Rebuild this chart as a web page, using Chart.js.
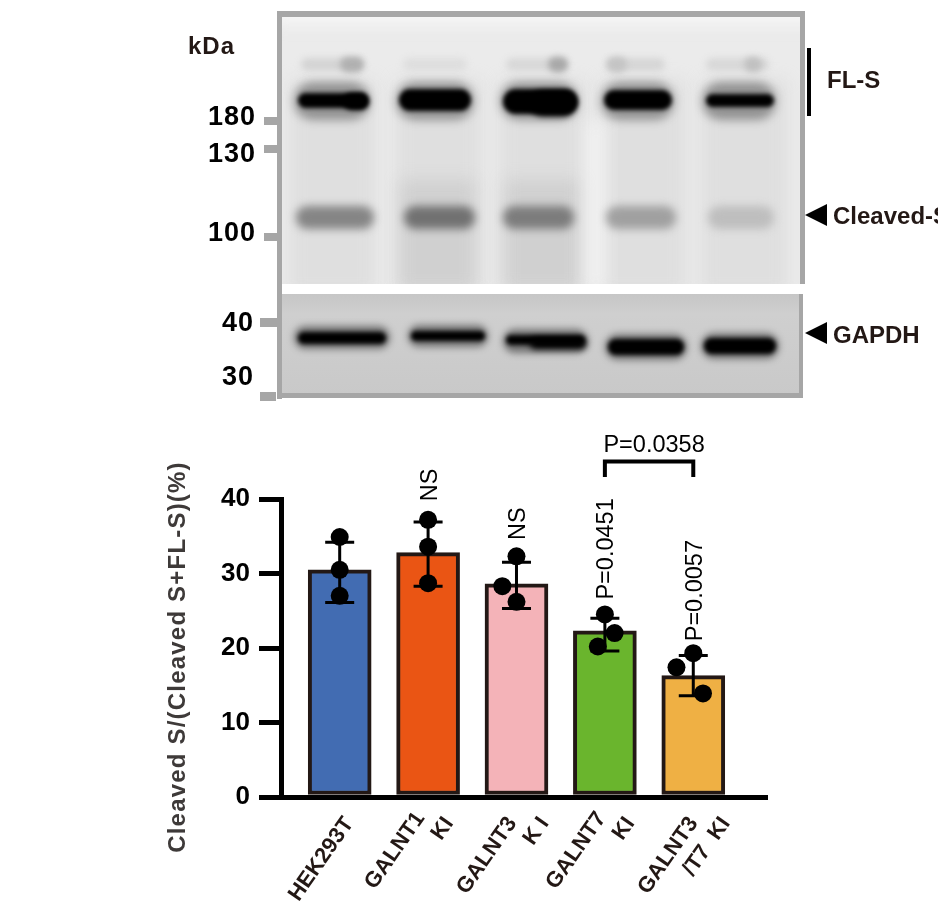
<!DOCTYPE html>
<html>
<head>
<meta charset="utf-8">
<style>
html,body{margin:0;padding:0;background:#fff;overflow:hidden}
#wrap{width:938px;height:922px;position:relative}
</style>
<script src="https://cdn.jsdelivr.net/npm/chart.js@4"></script>
</head>
<body>
<div id="wrap"><canvas id="chart" width="938" height="922"></canvas></div>
<script>
const categories = [["", "HEK293T"], ["GALNT1  ", "KI"], ["GALNT3   ", "K I"], ["GALNT7  ", "KI"], ["GALNT3   ", "/T7  KI"]];
const categoryTicks = [-0.07, 1.06, 2.14, 3.11, 4.19];
const barValues = [30.5, 32.8, 28.6, 22.3, 16.3];
const barColors = ["#426cb2", "#ea5514", "#f4b3b8", "#6ab52d", "#efb044"];
const errLow = [26.1, 28.3, 25.3, 19.6, 13.6];
const errHigh = [34.2, 36.9, 31.5, 24.0, 19.0];
const pointX = [0, 0, 0, 1, 1, 1, 1.84, 2, 2, 2.92, 3, 3.11, 3.81, 4, 4.11];
const pointY = [34.9, 30.5, 27.0, 37.2, 33.6, 28.7, 28.3, 32.3, 26.2, 20.2, 24.5, 22.0, 17.4, 19.3, 13.9];
const yTicks = [0, 10, 20, 30, 40];
const sigLabels = ["", "NS", "NS", "P=0.0451", "P=0.0057"];
const sigValues = [0, 39.7, 34.5, 26.5, 20.9];
const markerLabels = ["180", "130", "100", "40", "30"];

function band(ctx, x, y, w, h, shade, blur) {
  ctx.filter = "blur(" + blur + "px)";
  ctx.fillStyle = shade;
  ctx.beginPath();
  ctx.roundRect(x, y, w, h, h / 2);
  ctx.fill();
  ctx.filter = "none";
}

function smear(ctx, x, y, w, h, shade) {
  ctx.filter = "blur(8px)";
  ctx.fillStyle = shade;
  ctx.fillRect(x, y, w, h);
  ctx.filter = "none";
}

// the western blot above the bars
function drawBlot(ctx) {
  ctx.save();
  ctx.beginPath();
  ctx.rect(280, 14, 521, 270);
  ctx.clip();
  ctx.fillStyle = "#ebebeb";
  ctx.fillRect(280, 14, 521, 270);
  smear(ctx, 270, 0, 550, 24, "#f6f6f6");
  [[290, 85], [396, 85], [500, 85], [600, 85], [702, 85]].forEach(l => {
    smear(ctx, l[0], 80, l[1], 215, "rgba(205,205,205,0.4)");
  });
  [[400, 75], [505, 75]].forEach(l => smear(ctx, l[0], 180, l[1], 110, "rgba(190,190,190,0.45)"));
  smear(ctx, 585, 120, 22, 170, "rgba(245,245,245,0.7)");

  // faint upper bands
  [[301, 62, "#d4d4d4"], [403, 64, "#dedede"], [506, 61, "#d8d8d8"], [606, 59, "#d6d6d6"], [706, 63, "#d8d8d8"]].forEach(b => {
    band(ctx, b[0], 58, b[1], 13, b[2], 3);
  });
  [[340, 24, "#b0b0b0"], [548, 20, "#a8a8a8"], [744, 18, "#c0c0c0"], [607, 20, "#c4c4c4"]].forEach(b => {
    band(ctx, b[0], 57, b[1], 15, b[2], 3);
  });

  // full length bands, halo then core
  [[294, 76], [396, 78], [500, 78], [601, 73], [702, 74]].forEach(b => {
    band(ctx, b[0], 82, b[1], 38, "rgba(95,95,95,0.6)", 5);
  });
  [[298, 70, 93, 15], [399, 72, 89, 22], [503, 75, 89, 25], [604, 68, 90, 20], [706, 68, 94, 13]].forEach(b => {
    band(ctx, b[0], b[2], b[1], b[3], "#000", 2.2);
  });
  band(ctx, 343, 93, 26, 17, "#000", 2.5);
  band(ctx, 530, 91, 46, 25, "#000", 3);

  // cleaved bands
  [[296, 78, "#858585"], [404, 71, "#717171"], [503, 71, "#7c7c7c"], [606, 70, "#a0a0a0"], [708, 66, "#bebebe"]].forEach(b => {
    band(ctx, b[0], 206, b[1], 23, b[2], 4.5);
  });
  ctx.restore();

  // white gap
  ctx.fillStyle = "#fff";
  ctx.fillRect(282, 284, 518, 10);

  // GAPDH strip
  ctx.save();
  ctx.beginPath();
  ctx.rect(282, 294, 517, 100);
  ctx.clip();
  const g = ctx.createLinearGradient(0, 294, 0, 394);
  g.addColorStop(0, "#c6c6c6");
  g.addColorStop(0.2, "#cfcfcf");
  g.addColorStop(1, "#c9c9c9");
  ctx.fillStyle = g;
  ctx.fillRect(282, 294, 517, 100);
  [[294, 96, 326, 23], [408, 80, 325, 22], [503, 85, 329, 24], [605, 82, 334, 26], [701, 78, 333, 26]].forEach(b => {
    band(ctx, b[0], b[2], b[1], b[3], "rgba(55,55,55,0.6)", 3.5);
  });
  [[298, 88, 332, 12], [411, 74, 331, 10], [506, 79, 335, 10], [608, 76, 339, 16], [704, 72, 338, 16]].forEach(b => {
    band(ctx, b[0], b[2], b[1], b[3], "#000", 2);
  });
  band(ctx, 530, 338, 56, 11, "#000", 3);
  ctx.restore();

  // frame and ladder ticks
  ctx.fillStyle = "#a6a6a6";
  ctx.fillRect(277, 11, 528, 6);
  ctx.fillRect(277, 11, 5, 388);
  ctx.fillRect(277, 393, 524, 5);
  ctx.fillRect(800, 11, 5, 273);
  ctx.fillRect(799, 294, 4, 104);
  ctx.fillRect(264, 117, 13, 8);
  ctx.fillRect(264, 145, 13, 8);
  ctx.fillRect(264, 233, 13, 8);
  ctx.fillRect(260, 318, 17, 9);
  ctx.fillRect(260, 392, 16, 9);
}

function drawBlotText(ctx) {
  ctx.textBaseline = "middle";
  ctx.fillStyle = "#231815";
  ctx.font = "bold 24px 'Liberation Sans'";
  ctx.textAlign = "left";
  ctx.letterSpacing = "1px";
  ctx.fillText("kDa", 188, 47);
  ctx.fillStyle = "#000";
  ctx.font = "bold 27px 'Liberation Sans'";
  ctx.textAlign = "right";
  const markerY = [118, 155, 234, 324, 378];
  markerLabels.forEach((t, i) => ctx.fillText(t, i > 2 ? 254 : 256, markerY[i]));
  ctx.letterSpacing = "0px";
  ctx.textAlign = "left";
  ctx.font = "bold 24px 'Liberation Sans'";
  ctx.fillStyle = "#231815";
  ctx.fillText("FL-S", 827, 81);
  ctx.fillText("Cleaved-S", 833, 217);
  ctx.fillText("GAPDH", 833, 336);
  ctx.fillStyle = "#000";
  ctx.fillRect(807, 48, 4, 68);
  [215, 333].forEach(y => {
    ctx.beginPath();
    ctx.moveTo(805, y);
    ctx.lineTo(827, y - 11);
    ctx.lineTo(827, y + 11);
    ctx.closePath();
    ctx.fill();
  });
}

const figurePlugin = {
  id: "figure",
  beforeDraw(chart) {
    const ctx = chart.ctx;
    ctx.save();
    ctx.fillStyle = "#fff";
    ctx.fillRect(0, 0, 938, 922);
    drawBlot(ctx);
    drawBlotText(ctx);
    ctx.restore();
  },
  afterDatasetsDraw(chart) {
    const ctx = chart.ctx;
    const xs = chart.scales.x, ys = chart.scales.y;
    ctx.save();
    ctx.strokeStyle = "#000";
    ctx.lineWidth = 3;
    barValues.forEach((v, i) => {
      const x = xs.getPixelForValue(i);
      const lo = ys.getPixelForValue(errLow[i]);
      const hi = ys.getPixelForValue(errHigh[i]);
      ctx.beginPath();
      ctx.moveTo(x, lo);
      ctx.lineTo(x, hi);
      ctx.moveTo(x - 14.5, lo);
      ctx.lineTo(x + 14.5, lo);
      ctx.moveTo(x - 14.5, hi);
      ctx.lineTo(x + 14.5, hi);
      ctx.stroke();
    });

    // significance labels stand on the error bars
    ctx.fillStyle = "#000";
    ctx.font = "23.5px 'Liberation Sans'";
    ctx.textAlign = "left";
    ctx.textBaseline = "middle";
    sigLabels.forEach((t, i) => {
      if (!t) return;
      ctx.save();
      ctx.translate(xs.getPixelForValue(i) + 2, ys.getPixelForValue(sigValues[i]));
      ctx.rotate(-Math.PI / 2);
      ctx.fillText(t, 0, 0);
      ctx.restore();
    });

    // bracket between the last two bars
    const bx0 = xs.getPixelForValue(3), bx1 = xs.getPixelForValue(4);
    ctx.lineWidth = 4;
    ctx.lineJoin = "miter";
    ctx.beginPath();
    ctx.moveTo(bx0, 477);
    ctx.lineTo(bx0, 461.5);
    ctx.lineTo(bx1, 461.5);
    ctx.lineTo(bx1, 477);
    ctx.stroke();
    ctx.textAlign = "center";
    ctx.fillText("P=0.0358", (bx0 + bx1) / 2 + 5, 446);

    // axis title
    ctx.save();
    ctx.translate(178, 657);
    ctx.rotate(-Math.PI / 2);
    ctx.fillStyle = "#3e3a39";
    ctx.font = "bold 24px 'Liberation Sans'";
    ctx.letterSpacing = "1.2px";
    ctx.fillText("Cleaved S/(Cleaved S+FL-S)(%)", 0, 0);
    ctx.restore();
    ctx.restore();
  }
};

new Chart(document.getElementById("chart"), {
  data: {
    datasets: [
      {
        type: "scatter",
        data: pointX.map((x, i) => ({ x: x, y: pointY[i] })),
        pointRadius: 9,
        pointBackgroundColor: "#000",
        pointBorderWidth: 0,
        order: 1
      },
      {
        type: "bar",
        data: barValues.map((v, i) => ({ x: i, y: v })),
        backgroundColor: barColors,
        borderColor: "#231815",
        borderWidth: 4,
        borderSkipped: false,
        barThickness: 63,
        order: 2
      }
    ]
  },
  options: {
    responsive: false,
    animation: false,
    devicePixelRatio: 1,
    layout: { padding: { top: 499, right: 171, left: 0, bottom: 0 } },
    plugins: { legend: { display: false }, tooltip: { enabled: false } },
    scales: {
      x: {
        type: "linear",
        offset: false,
        min: -0.664,
        max: 4.834,
        afterFit(s) { s.height = 125; },
        // labels sit a little off the bar centres in the figure
        afterBuildTicks(s) { s.ticks = categoryTicks.map(v => ({ value: v })); },
        border: { color: "#000", width: 5 },
        grid: { offset: false, drawOnChartArea: false, drawTicks: false },
        ticks: {
          autoSkip: false,
          minRotation: 55,
          maxRotation: 55,
          padding: 0,
          labelOffset: -6,
          color: "#231815",
          font: { family: "'Liberation Sans'", size: 22, weight: "bold", lineHeight: 1.2 },
          callback(v, i) { return categories[i]; }
        }
      },
      y: {
        min: 0,
        max: 40,
        afterFit(s) { s.width = 281; },
        afterBuildTicks(s) { s.ticks = yTicks.map(v => ({ value: v })); },
        border: { color: "#000", width: 5 },
        grid: { drawOnChartArea: false, color: "#000", lineWidth: 5, tickLength: 22, tickColor: "#000", tickWidth: 5 },
        ticks: {
          padding: 9,
          color: "#000",
          font: { family: "'Liberation Sans'", size: 26, weight: "bold" }
        }
      }
    }
  },
  plugins: [figurePlugin]
});
</script>
</body>
</html>
